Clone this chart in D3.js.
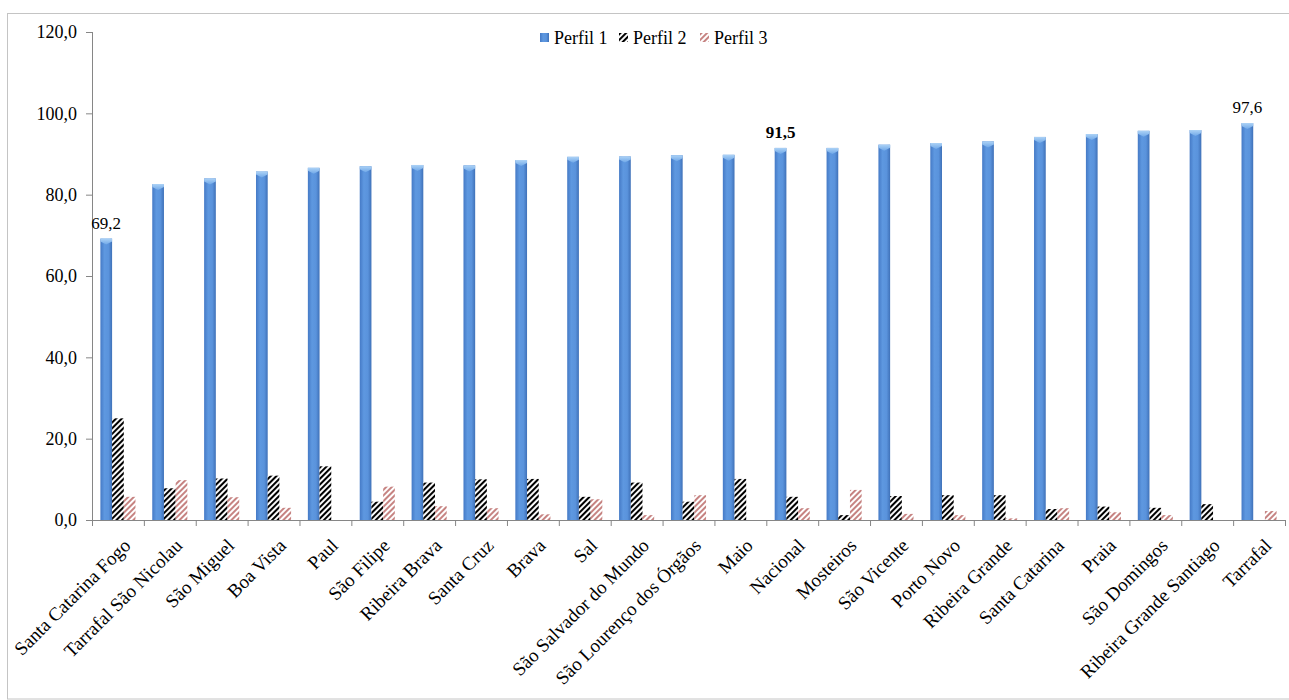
<!DOCTYPE html>
<html>
<head>
<meta charset="utf-8">
<script src="https://cdn.jsdelivr.net/npm/d3@7"></script>
<style>
  html, body { margin: 0; padding: 0; background: #ffffff; }
  svg { display: block; }
  svg text { font-family: 'Liberation Serif', 'Times New Roman', serif !important; }
</style>
</head>
<body>
<svg id="chart" width="1289" height="700"></svg>
<script>
const categories = ["Santa Catarina Fogo","Tarrafal São Nicolau","São Miguel","Boa Vista","Paul","São Filipe","Ribeira Brava","Santa Cruz","Brava","Sal","São Salvador do Mundo","São Lourenço dos Órgãos","Maio","Nacional","Mosteiros","São Vicente","Porto Novo","Ribeira Grande","Santa Catarina","Praia","São Domingos","Ribeira Grande Santiago","Tarrafal"];
const seriesNames = ["Perfil 1","Perfil 2","Perfil 3"];
const perfil1 = [69.2,82.6,84.0,85.7,86.6,87.0,87.3,87.2,88.5,89.3,89.4,89.7,89.8,91.5,91.5,92.3,92.7,93.1,94.2,94.9,95.7,95.9,97.6];
const perfil2 = [25.0,7.8,10.2,10.9,13.2,4.5,9.2,10.0,10.1,5.7,9.2,4.5,10.1,5.7,1.2,5.9,6.1,6.1,2.7,3.3,3.0,3.9,0];
const perfil3 = [5.7,9.8,5.6,3.0,0,8.2,3.4,2.9,1.4,5.1,1.2,6.1,0,2.9,7.4,1.5,1.2,0.4,2.9,1.9,1.2,0,2.2];
const yTicks = [0,20,40,60,80,100,120];
// data labels shown on Perfil 1 bars: [category, bold]
const labelled = [["Santa Catarina Fogo", false],["Nacional", true],["Tarrafal", false]];

const FONT = "'Liberation Serif', 'Times New Roman', serif";
const fmt = v => v.toFixed(1).replace(".", ",");
const values = [perfil1, perfil2, perfil3];

const svg = d3.select("#chart");
const defs = svg.append("defs");

// gradient for blue bars
const g1 = defs.append("linearGradient").attr("id","blueGrad").attr("x1","0").attr("x2","1").attr("y1","0").attr("y2","0");
g1.append("stop").attr("offset","0%").attr("stop-color","#457ac6");
g1.append("stop").attr("offset","35%").attr("stop-color","#5e98e0");
g1.append("stop").attr("offset","70%").attr("stop-color","#5a93dc");
g1.append("stop").attr("offset","100%").attr("stop-color","#3f71b8");
const g2 = defs.append("linearGradient").attr("id","capGrad").attr("x1","0").attr("x2","0").attr("y1","0").attr("y2","1");
g2.append("stop").attr("offset","0%").attr("stop-color","#acd2f6");
g2.append("stop").attr("offset","100%").attr("stop-color","#70a8e8");

// hatch patterns
function hatch(id, color, sw){
  const p = defs.append("pattern").attr("id", id).attr("patternUnits","userSpaceOnUse")
    .attr("width", 4).attr("height", 4).attr("patternTransform","rotate(45)");
  p.append("rect").attr("width",4).attr("height",4).attr("fill","#ffffff");
  p.append("line").attr("x1",1).attr("x2",1).attr("y1",0).attr("y2",4)
    .attr("stroke", color).attr("stroke-width", sw);
}
hatch("hatchBlack", "#000000", 2.1);
hatch("hatchRed", "#a8403e", 1.3);
const fills = ["url(#blueGrad)", "url(#hatchBlack)", "url(#hatchRed)"];

// outer border
svg.append("rect").attr("x",7.5).attr("y",13.5).attr("width",1300).attr("height",685.5)
  .attr("fill","none").attr("stroke","#c4c4c4").attr("stroke-width",1);

const x0 = d3.scaleBand().domain(categories).range([92, 1285]).paddingInner(0).paddingOuter(0);
const x1 = d3.scaleBand().domain(seriesNames).range([0, x0.bandwidth()]).paddingInner(0).paddingOuter(0.717);
const y = d3.scaleLinear().domain([0,120]).range([520, 32]);

// y axis
const yAxis = d3.axisLeft(y).tickValues(yTicks).tickSize(6).tickFormat(fmt);
const ya = svg.append("g").attr("transform","translate(92,0)").call(yAxis)
  .attr("font-family", FONT).attr("font-size", 18);
ya.select(".domain").attr("stroke","#868686").attr("d","M0.5,32V520");
ya.selectAll(".tick line").attr("stroke","#868686");
ya.selectAll(".tick text").style("font-size","18px").attr("fill","#000").attr("x",-15)
  .style("font-family", FONT);

// bars
const groups = svg.append("g").selectAll("g").data(categories).join("g")
  .attr("transform", d => `translate(${x0(d)},0)`);
seriesNames.forEach((s, si) => {
  groups.append("rect")
    .attr("x", x1(s)).attr("width", x1.bandwidth())
    .attr("y", (d,i) => y(values[si][i]))
    .attr("height", (d,i) => y(0) - y(values[si][i]))
    .attr("fill", fills[si]);
});
// caps on blue bars
groups.append("path")
  .attr("d", (d,i) => {
    const xs = x1("Perfil 1"), w = x1.bandwidth(), top = y(perfil1[i]);
    return `M${xs},${top}H${xs+w}V${top+3}L${xs+w/2},${top+6}L${xs},${top+3}Z`;
  })
  .attr("fill","url(#capGrad)");

// x axis
const xa = svg.append("g").attr("transform","translate(0,520)");
xa.append("line").attr("x1",92).attr("x2",1285).attr("y1",0.5).attr("y2",0.5).attr("stroke","#868686");
const bounds = categories.map(c => x0(c)).concat([x0.range()[1]]);
xa.selectAll("line.tk").data(bounds).join("line").attr("class","tk")
  .attr("x1", d => d + 0.5).attr("x2", d => d + 0.5).attr("y1",0).attr("y2",6).attr("stroke","#868686");
xa.selectAll("text").data(categories).join("text")
  .attr("transform", d => `translate(${x0(d) + x0.bandwidth()/2 + 9},${22}) rotate(-45)`)
  .attr("text-anchor","end").attr("dy","0.35em")
  .style("font-size","19px").style("font-family", FONT).attr("fill","#000")
  .text(d => d);

// data labels
svg.append("g").selectAll("text").data(labelled).join("text")
  .attr("x", d => x0(d[0]) + x1("Perfil 1") + x1.bandwidth()/2)
  .attr("y", d => y(perfil1[categories.indexOf(d[0])]) - 10)
  .attr("text-anchor","middle")
  .style("font-size","17px").style("font-family", FONT)
  .attr("font-weight", d => d[1] ? "bold" : "normal")
  .attr("fill","#000")
  .text(d => fmt(perfil1[categories.indexOf(d[0])]));

// legend
const legendX = [540, 619, 700];
const lg = svg.append("g").selectAll("g").data(seriesNames).join("g")
  .attr("transform", (d,i) => `translate(${legendX[i]},33)`);
lg.append("rect").attr("width",9).attr("height",9).attr("fill",(d,i) => fills[i]);
lg.append("text").attr("x",14).attr("y",5).attr("dy","0.35em")
  .style("font-size","18px").style("font-family", FONT).attr("fill","#000").text(d => d);
</script>
</body>
</html>
